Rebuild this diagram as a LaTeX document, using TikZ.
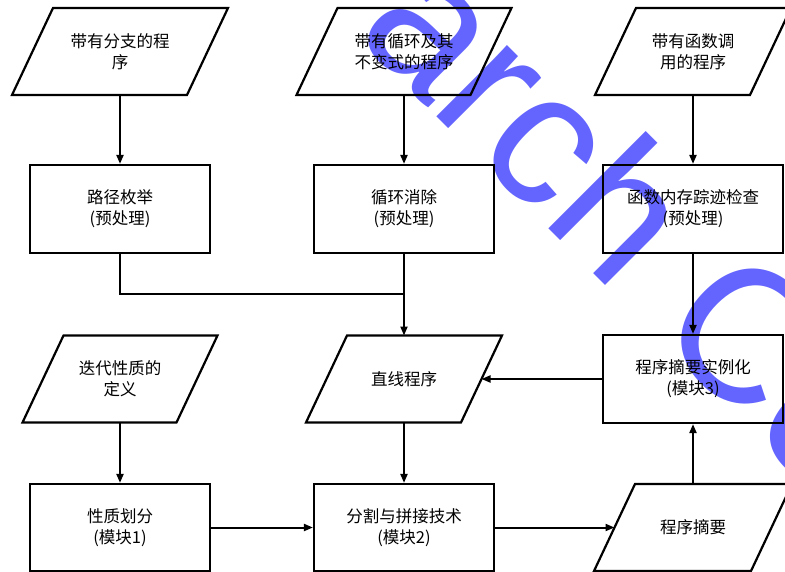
\documentclass[tikz,border=0pt]{standalone}
\usepackage{fontspec}
\setmainfont{Liberation Serif}
\newfontfamily\cjk{Noto Sans CJK SC}
\newfontfamily\wmfont{Liberation Sans}
\usetikzlibrary{arrows.meta}
\definecolor{wmblue}{RGB}{100,100,255}
\newcommand\drawpara[1]{%
  \draw[line width=2.2pt, line join=miter]
    ([xshift=-20.5pt]#1.south west) -- ([xshift=-20.5pt]#1.south east) --
    ([xshift=20.5pt]#1.north east) -- ([xshift=20.5pt]#1.north west) -- cycle;}
\begin{document}
\begin{tikzpicture}[x=1pt,y=-1pt,
  txt/.style={align=center, font=\cjk\fontsize{16.5}{21}\selectfont},
  box/.style={txt, draw, line width=2.2pt, minimum width=180pt, minimum height=88pt, inner sep=0pt},
  para/.style={txt, minimum height=87pt, inner sep=0pt, outer sep=0pt},
  conn/.style={line width=2pt, -{Triangle[length=9pt,width=7pt]}},
  plain/.style={line width=2pt},
  wm/.style={rotate=-45, inner sep=0pt, text=wmblue,
    font=\wmfont\fontsize{190}{190}\selectfont}]
\useasboundingbox (0,0) rectangle (785,572);
\begin{scope}
  \clip (0,0) rectangle (785,572);
  \node[wm, anchor=base east] (wm1) at (332,12) {Rese};
  \node[wm, anchor=base west] (wm2) at (353,33) {arch Center};
\end{scope}
% top row
\node[para, minimum width=175pt] (p1) at (120,51.5) {带有分支的程\\序};
\node[para, minimum width=174pt] (p2) at (404,51.5) {带有循环及其\\不变式的程序};
\node[para, minimum width=155pt] (p3) at (693,51.5) {带有函数调\\用的程序};
% second row
\node[box] (r1) at (120,209) {路径枚举\\(预处理)};
\node[box] (r2) at (404,209) {循环消除\\(预处理)};
\node[box] (r3) at (693,209) {函数内存踪迹检查\\(预处理)};
% third row
\node[para, minimum width=154pt] (p4) at (120,379) {迭代性质的\\定义};
\node[para, minimum width=155pt] (p5) at (404,379) {直线程序};
\node[box] (r4) at (693,379) {程序摘要实例化\\(模块3)};
% fourth row
\node[box, minimum height=87pt] (r5) at (120,527.5) {性质划分\\(模块1)};
\node[box, minimum height=87pt] (r6) at (404,527.5) {分割与拼接技术\\(模块2)};
\node[para, minimum width=157pt] (p6) at (693,527.5) {程序摘要};
\drawpara{p1}\drawpara{p2}\drawpara{p3}\drawpara{p4}\drawpara{p5}\drawpara{p6}
% connectors
\coordinate (j) at (404,294);
\draw[conn] (p1.south) -- (r1.north);
\draw[conn] (p2.south) -- (r2.north);
\draw[conn] (p3.south) -- (r3.north);
\draw[plain] (r1.south) |- (j);
\draw[conn] (r2.south) -- (p5.north);
\draw[conn] (r3.south) -- (r4.north);
\draw[conn] (r4.west) -- (p5.east);
\draw[conn] (p4.south) -- (r5.north);
\draw[conn] (p5.south) -- (r6.north);
\draw[conn] (r5.east) -- (r6.west);
\draw[conn] (r6.east) -- (p6.west);
\draw[conn] (p6.north) -- (r4.south);
\end{tikzpicture}
\end{document}
